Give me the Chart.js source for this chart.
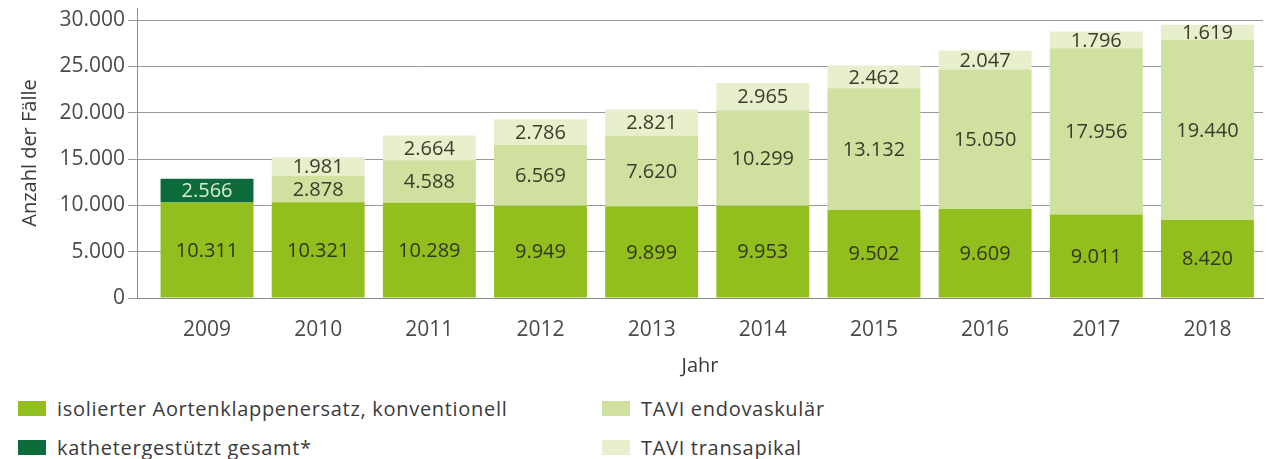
<!DOCTYPE html>
<html lang="de">
<head>
<meta charset="utf-8">
<script src="https://cdn.jsdelivr.net/npm/chart.js@4.4.1/dist/chart.umd.min.js"></script>
<style>
    body { margin: 0; background: #fff; font-family: 'Open Sans', sans-serif; }
    #wrap { position: relative; width: 1267px; height: 459px; overflow: hidden; }
    #chart { position: absolute; left: 0; top: 0; }
    .legend-item { position: absolute; display: flex; align-items: center; font-size: 20px; letter-spacing: 0.7px; color: #3a3a3a; white-space: nowrap; }
    .legend-item .box { width: 28px; height: 15px; margin-right: 11px; }
</style>
</head>
<body>
<div id="wrap">
    <canvas id="chart" width="1267" height="385"></canvas>
    <div id="legend"></div>
</div>
<script>
// data
const years = [2009, 2010, 2011, 2012, 2013, 2014, 2015, 2016, 2017, 2018];
const konventionell = [10311, 10321, 10289, 9949, 9899, 9953, 9502, 9609, 9011, 8420];
const katheterGesamt = [2566, null, null, null, null, null, null, null, null, null];
const taviEndo = [null, 2878, 4588, 6569, 7620, 10299, 13132, 15050, 17956, 19440];
const taviApikal = [null, 1981, 2664, 2786, 2821, 2965, 2462, 2047, 1796, 1619];
const yTicks = [0, 5000, 10000, 15000, 20000, 25000, 30000];

const seriesNames = [
    'isolierter Aortenklappenersatz, konventionell',
    'kathetergestützt gesamt*',
    'TAVI endovaskulär',
    'TAVI transapikal'
];
const seriesColors = ['#92bf1e', '#0d6b3b', '#cfe09f', '#e7efcd'];
const labelColors = ['#33361f', '#d9ecd2', '#3b3d2c', '#3b3d2c'];

Chart.defaults.font.family = "'Open Sans', sans-serif";
Chart.defaults.color = '#4a4a4a';

// German thousands separator
function fmt(v) {
    return String(v).replace(/\B(?=(\d{3})+(?!\d))/g, '.');
}

// writes the values into the middle of each segment
const segmentLabels = {
    id: 'segmentLabels',
    afterDatasetsDraw(chart) {
        const ctx = chart.ctx;
        ctx.save();
        ctx.font = "20px 'Open Sans', sans-serif";
        ctx.textAlign = 'center';
        ctx.textBaseline = 'middle';
        chart.data.datasets.forEach((ds, di) => {
            const meta = chart.getDatasetMeta(di);
            meta.data.forEach((bar, i) => {
                const v = ds.data[i];
                if (v === null || v === undefined) return;
                const p = bar.getProps(['x', 'y', 'base'], true);
                ctx.fillStyle = labelColors[di];
                ctx.fillText(fmt(v), p.x, (p.y + p.base) / 2 + 1);
            });
        });
        ctx.restore();
    }
};

const allSeries = [konventionell, katheterGesamt, taviEndo, taviApikal];

const chart = new Chart(document.getElementById('chart'), {
    type: 'bar',
    data: {
        labels: years,
        datasets: allSeries.map((d, i) => ({
            label: seriesNames[i],
            data: d,
            backgroundColor: seriesColors[i],
            borderWidth: 0,
            categoryPercentage: 1,
            barPercentage: 0.836
        }))
    },
    options: {
        responsive: false,
        animation: false,
        layout: { padding: { top: 8, right: 4, left: 0, bottom: 0 } },
        plugins: {
            legend: { display: false },
            tooltip: { enabled: false }
        },
        scales: {
            x: {
                type: 'linear',
                stacked: true,
                offset: false,
                min: 2008.37,
                max: 2018.5,
                afterBuildTicks: axis => { axis.ticks = years.map(y => ({ value: y })); },
                afterFit: axis => { axis.height = 87; },
                grid: { display: false },
                border: { display: true, color: '#8c8c8c', width: 1 },
                ticks: {
                    font: { size: 21 },
                    color: '#4a4a4a',
                    padding: 11,
                    callback: v => String(v)
                },
                title: {
                    display: true,
                    text: 'Jahr',
                    font: { size: 20 },
                    color: '#3a3a3a',
                    padding: { top: 6, bottom: 7 }
                }
            },
            y: {
                stacked: true,
                min: 0,
                max: 31300,
                afterBuildTicks: axis => { axis.ticks = yTicks.map(v => ({ value: v })); },
                afterFit: axis => {
                    axis.width = 137;
                    axis.paddingTop = 0;
                    axis.paddingBottom = 0;
                },
                grid: { color: '#9a9a9a', lineWidth: 1, tickLength: 9 },
                border: { display: true, color: '#8c8c8c', width: 1 },
                ticks: {
                    font: { size: 21 },
                    color: '#4a4a4a',
                    padding: 3,
                    callback: v => fmt(v)
                },
                title: {
                    display: true,
                    text: 'Anzahl der Fälle',
                    font: { size: 20 },
                    color: '#3a3a3a',
                    padding: { top: 18, bottom: 0 }
                }
            }
        }
    },
    plugins: [segmentLabels]
});

// legend in two columns below the chart
const legendPos = [
    { left: 18, top: 395 },
    { left: 18, top: 434 },
    { left: 602, top: 395 },
    { left: 602, top: 434 }
];
const legendEl = document.getElementById('legend');
seriesNames.forEach((name, i) => {
    const item = document.createElement('div');
    item.className = 'legend-item';
    item.style.left = legendPos[i].left + 'px';
    item.style.top = legendPos[i].top + 'px';
    item.innerHTML = `<span class="box" style="background:${seriesColors[i]}"></span><span>${name}</span>`;
    legendEl.appendChild(item);
});
</script>
</body>
</html>
